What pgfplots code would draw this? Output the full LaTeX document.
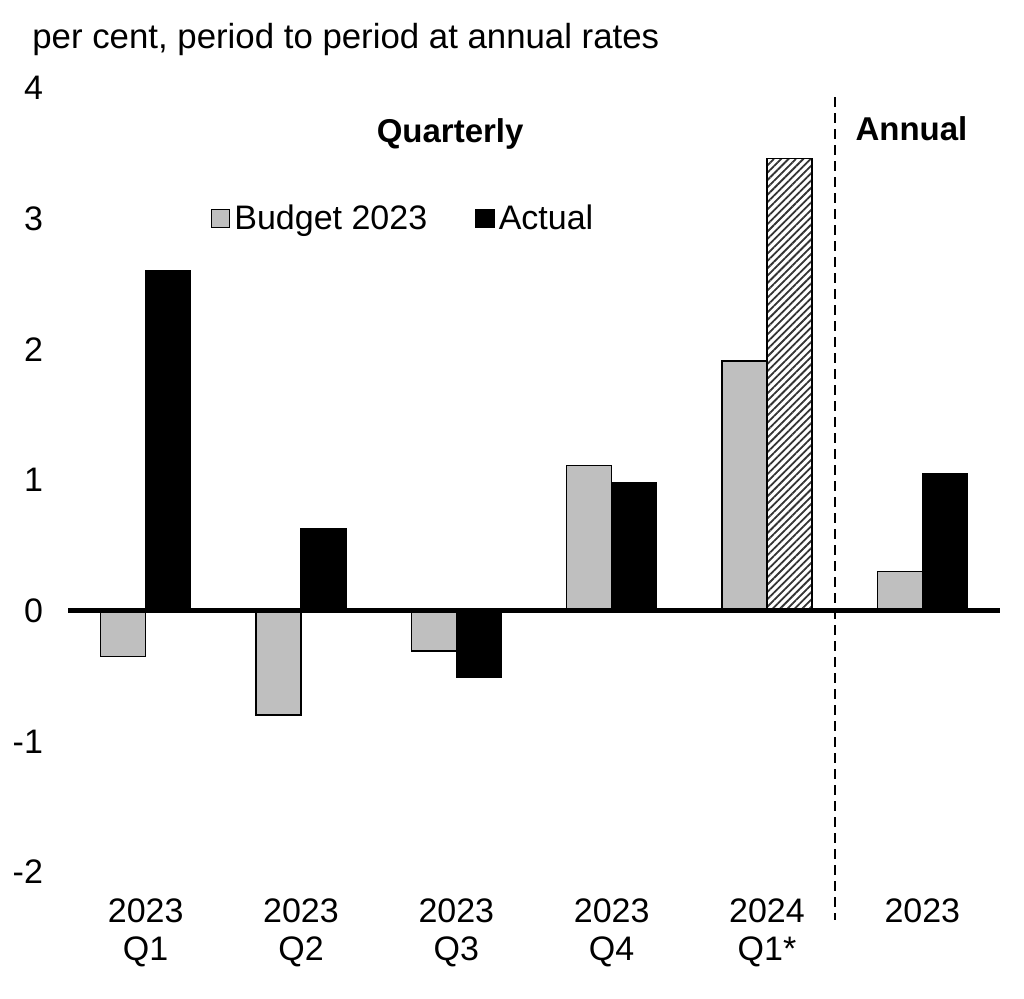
\documentclass[border=0pt]{standalone}
\usepackage{pgfplots}
\pgfplotsset{compat=1.18}
\usepackage{fontspec}
\setmainfont{Liberation Sans}
\usetikzlibrary{patterns.meta}
\definecolor{budgetgray}{HTML}{BFBFBF}
\definecolor{hatchgray}{HTML}{333333}

\begin{document}
\begin{tikzpicture}
\begin{axis}[
  width=466bp, height=392bp, scale only axis,
  xmin=-0.5, xmax=5.5, ymin=-2, ymax=4,
  axis line style={draw=none},
  major tick length=0pt,
  ytick={-2,-1,0,1,2,3,4},
  yticklabels={-2,-1,0,1,2,3,4},
  xtick={0,1,2,3,4,5},
  xticklabels={{2023\\Q1},{2023\\Q2},{2023\\Q3},{2023\\Q4},{2024\\Q1*},{2023}},
  ticklabel style={font=\fontsize{17bp}{19bp}\selectfont},
  xticklabel style={align=center, anchor=north, yshift=-10bp},
  yticklabel style={xshift=-9bp},
  ybar, bar width=0.29,
  clip=false,
  legend columns=2,
  legend style={at={(axis cs:0.42,3.0)}, anchor=west, draw=none, fill=none,
    inner sep=0pt, outer sep=0pt,
    font=\fontsize{17bp}{18bp}\selectfont,
    /tikz/every even column/.append style={column sep=22bp},
    nodes={inner sep=2bp}},
  legend image code/.code={\draw[#1] (0bp,-4.5bp) rectangle (9bp,4.5bp);},
]
\addplot[bar shift=-0.145, fill=budgetgray, draw=black, line width=0.75bp]
  coordinates {(0,-0.35) (1,-0.80) (2,-0.31) (3,1.11) (4,1.91) (5,0.30)};
\addlegendentry{Budget 2023}
\addplot[bar shift=0.145, fill=black, draw=black, line width=0.75bp]
  coordinates {(0,2.60) (1,0.63) (2,-0.51) (3,0.98) (5,1.05)};
\addlegendentry{Actual}
\addplot[forget plot, bar shift=0.145, fill=white, draw=black, line width=0.75bp,
  postaction={pattern={Lines[angle=45, distance=2.6bp, line width=0.9bp]}, pattern color=hatchgray}]
  coordinates {(4,3.46)};
\draw[line width=2.5bp] (axis cs:-0.5,0) -- (axis cs:5.5,0);
\draw[dash pattern=on 5bp off 3bp, line width=0.9bp] (axis cs:4.44,3.93) -- (axis cs:4.44,-2.37);
\node[font=\bfseries\fontsize{16.5bp}{18bp}\selectfont, anchor=base] at (axis cs:1.96,3.58) {Quarterly};
\node[font=\bfseries\fontsize{16.5bp}{18bp}\selectfont, anchor=base] at (axis cs:4.93,3.60) {Annual};
\end{axis}
\node[anchor=base west, font=\fontsize{17.4bp}{19bp}\selectfont, inner sep=0pt]
  at ([xshift=-18bp, yshift=19.5bp]current axis.north west) {per cent, period to period at annual rates};
\path (current axis.south west) ++(-34bp,-63.5bp) rectangle ++(512bp,499.5bp);
\end{tikzpicture}
\end{document}
